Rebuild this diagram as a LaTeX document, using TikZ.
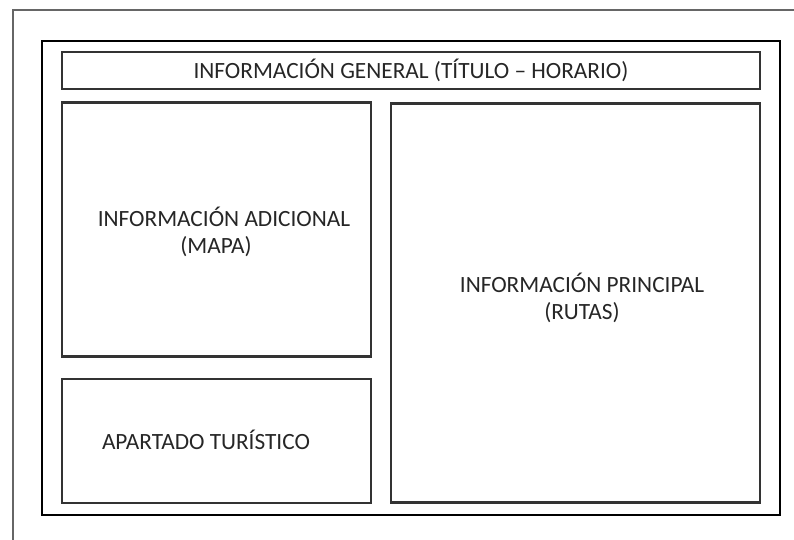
\documentclass[tikz,border=0pt]{standalone}
\usepackage{fontspec}
\setmainfont{Carlito}
\begin{document}
\begin{tikzpicture}[x=1pt,y=-1pt,
  frame/.style={draw=black!60,line width=1.2pt},
  outerbox/.style={draw=black,line width=2.6pt},
  panel/.style={draw=black!80,line width=2.2pt},
  lbl/.style={font=\fontsize{23.3}{27}\selectfont,align=center,text=black!85}]
\useasboundingbox (0,0) rectangle (794,540);
\coordinate (tl) at (13,10);
\coordinate (tr) at (794,10);
\coordinate (bl) at (13,540);
\draw[frame] (tr) -- (tl) -- (bl);
\draw[outerbox] (42,41) rectangle (780,515);
\node[panel,minimum width=698pt,minimum height=37pt,inner sep=0pt] (hdr) at (411,70.5) {};
\node[panel,minimum width=309pt,minimum height=254pt,inner sep=0pt] (map) at (216.5,229.5) {};
\node[panel,minimum width=309pt,minimum height=124pt,inner sep=0pt] (tur) at (216.5,441) {};
\node[panel,minimum width=369pt,minimum height=399pt,inner sep=0pt] (main) at (575.5,303) {};
\node[lbl] (hdrt) at (hdr.center) {INFORMACIÓN GENERAL (TÍTULO – HORARIO)};
\node[lbl] (mapt) at (224,232) {INFORMACIÓN ADICIONAL\\(MAPA)\hspace*{16pt}};
\node[lbl] (mainx) at (582,298) {INFORMACIÓN PRINCIPAL\\(RUTAS)};
\node[lbl] (turt) at (206,440) {APARTADO TURÍSTICO};
\end{tikzpicture}
\end{document}
